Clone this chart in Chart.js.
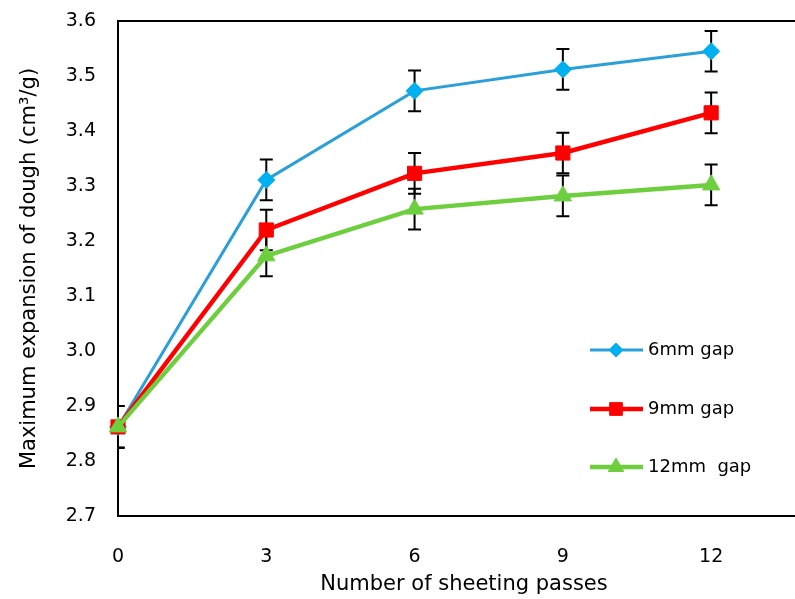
<!DOCTYPE html>
<html>
<head>
<meta charset="utf-8">
<script src="https://cdn.jsdelivr.net/npm/chart.js@4/dist/chart.umd.min.js"></script>
<style>
	html, body { margin: 0; padding: 0; background: #fff; overflow: hidden; }
	#wrap { width: 830px; height: 599px; position: relative; }
</style>
</head>
<body>
<div id="wrap"><canvas id="myChart"></canvas></div>
<script>
// sheeting passes on x
var passes = [0, 3, 6, 9, 12];
var xTicks = [0, 3, 6, 9, 12];

// maximum expansion, cm3/g
var gap6 = [2.862, 3.311, 3.473, 3.512, 3.545];
var gap9 = [2.862, 3.220, 3.323, 3.360, 3.433];
var gap12 = [2.862, 3.173, 3.258, 3.282, 3.302];

// error bar half widths
var err6 = [0.038, 0.037, 0.037, 0.037, 0.037];
var err9 = [0.038, 0.037, 0.037, 0.037, 0.037];
var err12 = [0.038, 0.037, 0.037, 0.037, 0.037];

var seriesLabels = ["6mm gap", "9mm gap", "12mm  gap"];

const FONT = "'DejaVu Sans', sans-serif";

function toPoints(values) {
	return passes.map((p, i) => ({ x: p, y: values[i] }));
}

// black error bars, clipped to the plot area, under the markers
const errorBars = {
	id: "errorBars",
	beforeDatasetsDraw(chart) {
		var ctx = chart.ctx;
		var area = chart.chartArea;
		var yScale = chart.scales.y;
		ctx.save();
		ctx.beginPath();
		ctx.rect(area.left, area.top, area.right - area.left, area.bottom - area.top);
		ctx.clip();
		ctx.strokeStyle = "#000";
		ctx.lineWidth = 2;
		chart.data.datasets.forEach((ds, d) => {
			var meta = chart.getDatasetMeta(d);
			ds.errors.forEach((e, i) => {
				var x = meta.data[i].x;
				var top = yScale.getPixelForValue(ds.data[i].y + e);
				var bot = yScale.getPixelForValue(ds.data[i].y - e);
				ctx.beginPath();
				ctx.moveTo(x, top);
				ctx.lineTo(x, bot);
				ctx.moveTo(x - 6.5, top);
				ctx.lineTo(x + 6.5, top);
				ctx.moveTo(x - 6.5, bot);
				ctx.lineTo(x + 6.5, bot);
				ctx.stroke();
			});
		});
		ctx.restore();

		// plot frame
		ctx.save();
		ctx.strokeStyle = "#000";
		ctx.lineWidth = 2;
		ctx.strokeRect(area.left, area.top, area.right - area.left, area.bottom - area.top);
		ctx.restore();
	},
};

// legend drawn inside the plot, right side
const insideLegend = {
	id: "insideLegend",
	afterDraw(chart) {
		var ctx = chart.ctx;
		var rows = [350, 409, 467];
		var sizes = [7, 9, 9];
		ctx.save();
		chart.data.datasets.forEach((ds, d) => {
			var y = rows[d];
			ctx.strokeStyle = ds.borderColor;
			ctx.lineWidth = ds.borderWidth;
			ctx.beginPath();
			ctx.moveTo(590, y);
			ctx.lineTo(643, y);
			ctx.stroke();
			ctx.fillStyle = ds.pointBackgroundColor;
			ctx.strokeStyle = ds.pointBackgroundColor;
			ctx.lineWidth = 1;
			Chart.helpers.drawPoint(ctx, { pointStyle: ds.pointStyle, radius: sizes[d], borderWidth: 1 }, 616, y);
			ctx.fillStyle = "#000";
			ctx.font = "18px " + FONT;
			ctx.textBaseline = "middle";
			ctx.textAlign = "left";
			ctx.fillText(ds.label, 648, y);
		});
		ctx.restore();
	},
};

const data = {
	datasets: [
		{
			label: seriesLabels[0],
			data: toPoints(gap6),
			errors: err6,
			borderColor: "#2A9FD8",
			borderWidth: 3,
			pointStyle: "rectRot",
			pointRadius: 8.5,
			pointBackgroundColor: "#00B0F0",
			pointBorderColor: "#00B0F0",
			pointBorderWidth: 1,
			order: 3,
		},
		{
			label: seriesLabels[1],
			data: toPoints(gap9),
			errors: err9,
			borderColor: "#FF0000",
			borderWidth: 4.5,
			pointStyle: "rect",
			pointRadius: 10,
			pointBackgroundColor: "#FF0000",
			pointBorderColor: "#FF0000",
			pointBorderWidth: 1,
			order: 2,
		},
		{
			label: seriesLabels[2],
			data: toPoints(gap12),
			errors: err12,
			borderColor: "#6ECF3E",
			borderWidth: 4.5,
			pointStyle: "triangle",
			pointRadius: 10,
			pointBackgroundColor: "#6ECF3E",
			pointBorderColor: "#6ECF3E",
			pointBorderWidth: 1,
			order: 1,
		},
	],
};

const chart = new Chart(document.getElementById("myChart"), {
	type: "line",
	data: data,
	plugins: [errorBars, insideLegend],
	options: {
		responsive: true,
		maintainAspectRatio: false,
		animation: false,
		layout: {
			autoPadding: false,
			padding: { left: 0, right: 20, top: 21, bottom: 0 },
		},
		datasets: {
			line: { tension: 0, clip: false, fill: false },
		},
		plugins: {
			legend: { display: false },
			tooltip: { enabled: false },
		},
		scales: {
			x: {
				type: "linear",
				min: 0,
				max: 14,
				afterFit: (scale) => { scale.height = 83; },
				afterBuildTicks: (scale) => { scale.ticks = xTicks.map((v) => ({ value: v })); },
				grid: { display: false, drawTicks: false },
				border: { display: false },
				ticks: {
					padding: 30,
					color: "#000",
					font: { family: FONT, size: 19 },
					autoSkip: false,
					maxRotation: 0,
				},
				title: {
					display: true,
					text: "Number of sheeting passes",
					color: "#000",
					font: { family: FONT, size: 21 },
					padding: { top: 0, bottom: 2 },
				},
			},
			y: {
				min: 2.7,
				max: 3.6,
				afterFit: (scale) => {
					// fixed axis width; the tick padding should not push the plot down
					scale.width = 118;
					scale.paddingTop = 0;
					scale.paddingBottom = 0;
				},
				grid: { display: false, drawTicks: false },
				border: { display: false },
				ticks: {
					stepSize: 0.1,
					padding: 22,
					color: "#000",
					font: { family: FONT, size: 19 },
					callback: (v) => v.toFixed(1),
				},
				title: {
					display: true,
					text: "Maximum expansion of dough (cm³/g)",
					color: "#000",
					font: { family: FONT, size: 21 },
					padding: { top: 17, bottom: 0 },
				},
			},
		},
	},
});
</script>
</body>
</html>
